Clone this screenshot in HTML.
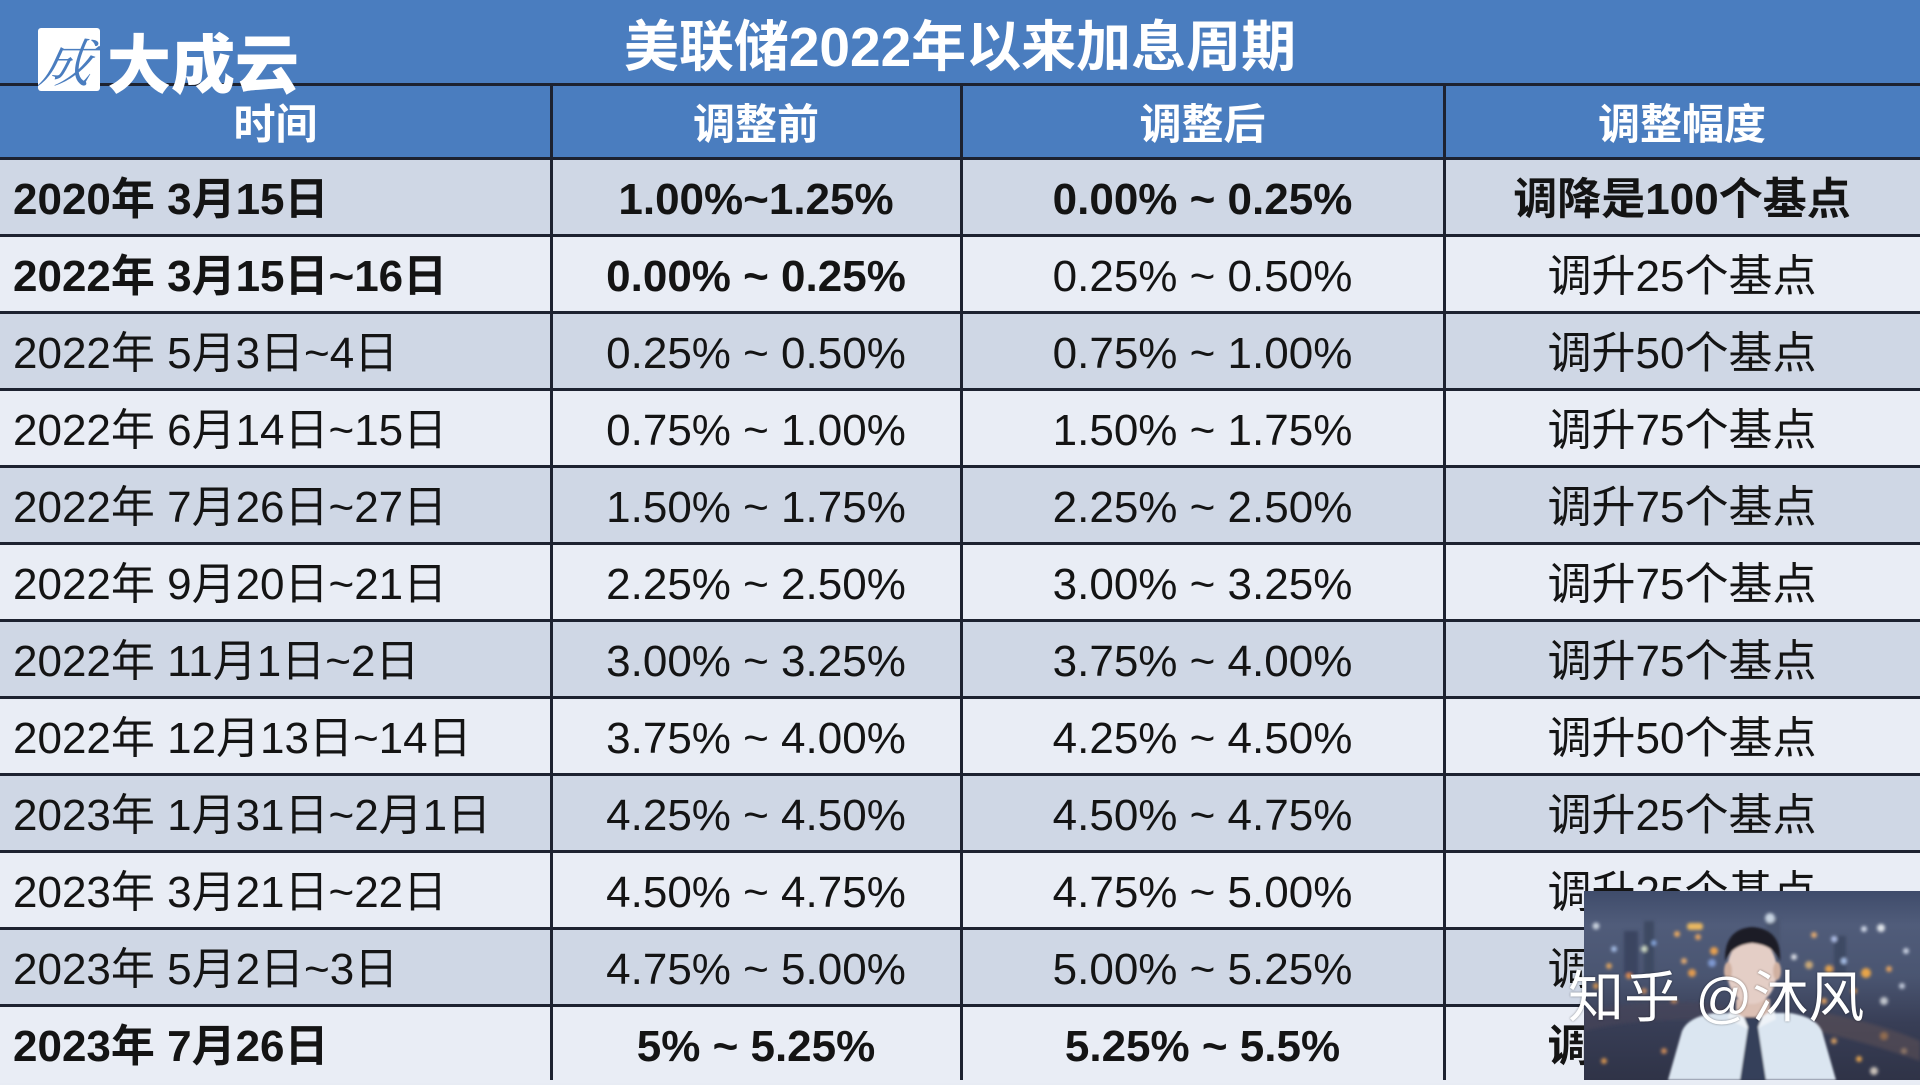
<!DOCTYPE html>
<html>
<head>
<meta charset="utf-8">
<style>
html,body{margin:0;padding:0;}
body{width:1920px;height:1080px;overflow:hidden;position:relative;background:#e8ecf4;font-family:"Liberation Sans","Noto Sans CJK SC",sans-serif;}
.abs{position:absolute;}
.band{left:0;top:0;width:1920px;height:159px;background:#4a7dbf;}
.title{left:0;width:1920px;top:19px;height:56px;line-height:56px;text-align:center;color:#fff;font-size:55px;font-weight:bold;}
.hdr{top:87px;height:75px;line-height:75px;text-align:center;color:#fff;font-size:42px;font-weight:bold;}
.row{left:0;width:1920px;height:77px;}
.dark{background:#cfd7e5;}
.light{background:#e9edf5;}
.cell{height:77px;line-height:77px;font-size:44px;color:#141414;white-space:nowrap;margin-top:2px;}
.c1{left:13px;width:530px;text-align:left;}
.c2{left:551px;width:410px;text-align:center;}
.c3{left:961px;width:483px;text-align:center;}
.c4{left:1444px;width:476px;text-align:center;}
.b{font-weight:bold;}
.hl{left:0;width:1920px;height:3px;background:#1d2230;}
.vl{width:3px;top:84px;height:996px;background:#1d2230;}
</style>
</head>
<body>
<div class="abs band"></div>

<!-- rows -->
<div class="abs row dark" style="top:159px"></div>
<div class="abs row light" style="top:236px"></div>
<div class="abs row dark" style="top:313px"></div>
<div class="abs row light" style="top:390px"></div>
<div class="abs row dark" style="top:467px"></div>
<div class="abs row light" style="top:544px"></div>
<div class="abs row dark" style="top:621px"></div>
<div class="abs row light" style="top:698px"></div>
<div class="abs row dark" style="top:775px"></div>
<div class="abs row light" style="top:852px"></div>
<div class="abs row dark" style="top:929px"></div>
<div class="abs row light" style="top:1006px"></div>

<!-- lines -->
<div class="abs hl" style="top:83px"></div>
<div class="abs hl" style="top:157px"></div>
<div class="abs hl" style="top:234px"></div>
<div class="abs hl" style="top:311px"></div>
<div class="abs hl" style="top:388px"></div>
<div class="abs hl" style="top:465px"></div>
<div class="abs hl" style="top:542px"></div>
<div class="abs hl" style="top:619px"></div>
<div class="abs hl" style="top:696px"></div>
<div class="abs hl" style="top:773px"></div>
<div class="abs hl" style="top:850px"></div>
<div class="abs hl" style="top:927px"></div>
<div class="abs hl" style="top:1004px"></div>
<div class="abs vl" style="left:550px"></div>
<div class="abs vl" style="left:960px"></div>
<div class="abs vl" style="left:1443px"></div>

<!-- title & logo -->
<div class="abs title">美联储2022年以来加息周期</div>
<div class="abs" style="left:38px;top:28px;width:62px;height:63px;background:#fff;border-radius:3px;overflow:hidden;">
  <div style="position:absolute;left:4px;top:2px;font-size:52px;line-height:60px;color:#4a7dbf;font-style:italic;font-family:'Noto Serif CJK SC',serif;transform:skewX(-12deg);">成</div>
</div>
<div class="abs" style="left:107px;top:28px;font-size:64px;line-height:66px;color:#fff;font-weight:900;font-family:'Noto Sans CJK SC',sans-serif;">大成云</div>

<!-- header labels -->
<div class="abs hdr" style="left:0;width:551px;">时间</div>
<div class="abs hdr" style="left:551px;width:410px;">调整前</div>
<div class="abs hdr" style="left:961px;width:483px;">调整后</div>
<div class="abs hdr" style="left:1444px;width:476px;">调整幅度</div>

<!-- row 1 -->
<div class="abs cell c1 b" style="top:159px">2020年 3月15日</div>
<div class="abs cell c2 b" style="top:159px">1.00%~1.25%</div>
<div class="abs cell c3 b" style="top:159px">0.00% ~ 0.25%</div>
<div class="abs cell c4 b" style="top:159px">调降是100个基点</div>
<!-- row 2 -->
<div class="abs cell c1 b" style="top:236px">2022年 3月15日~16日</div>
<div class="abs cell c2 b" style="top:236px">0.00% ~ 0.25%</div>
<div class="abs cell c3" style="top:236px">0.25% ~ 0.50%</div>
<div class="abs cell c4" style="top:236px">调升25个基点</div>
<!-- row 3 -->
<div class="abs cell c1" style="top:313px">2022年 5月3日~4日</div>
<div class="abs cell c2" style="top:313px">0.25% ~ 0.50%</div>
<div class="abs cell c3" style="top:313px">0.75% ~ 1.00%</div>
<div class="abs cell c4" style="top:313px">调升50个基点</div>
<!-- row 4 -->
<div class="abs cell c1" style="top:390px">2022年 6月14日~15日</div>
<div class="abs cell c2" style="top:390px">0.75% ~ 1.00%</div>
<div class="abs cell c3" style="top:390px">1.50% ~ 1.75%</div>
<div class="abs cell c4" style="top:390px">调升75个基点</div>
<!-- row 5 -->
<div class="abs cell c1" style="top:467px">2022年 7月26日~27日</div>
<div class="abs cell c2" style="top:467px">1.50% ~ 1.75%</div>
<div class="abs cell c3" style="top:467px">2.25% ~ 2.50%</div>
<div class="abs cell c4" style="top:467px">调升75个基点</div>
<!-- row 6 -->
<div class="abs cell c1" style="top:544px">2022年 9月20日~21日</div>
<div class="abs cell c2" style="top:544px">2.25% ~ 2.50%</div>
<div class="abs cell c3" style="top:544px">3.00% ~ 3.25%</div>
<div class="abs cell c4" style="top:544px">调升75个基点</div>
<!-- row 7 -->
<div class="abs cell c1" style="top:621px">2022年 11月1日~2日</div>
<div class="abs cell c2" style="top:621px">3.00% ~ 3.25%</div>
<div class="abs cell c3" style="top:621px">3.75% ~ 4.00%</div>
<div class="abs cell c4" style="top:621px">调升75个基点</div>
<!-- row 8 -->
<div class="abs cell c1" style="top:698px">2022年 12月13日~14日</div>
<div class="abs cell c2" style="top:698px">3.75% ~ 4.00%</div>
<div class="abs cell c3" style="top:698px">4.25% ~ 4.50%</div>
<div class="abs cell c4" style="top:698px">调升50个基点</div>
<!-- row 9 -->
<div class="abs cell c1" style="top:775px">2023年 1月31日~2月1日</div>
<div class="abs cell c2" style="top:775px">4.25% ~ 4.50%</div>
<div class="abs cell c3" style="top:775px">4.50% ~ 4.75%</div>
<div class="abs cell c4" style="top:775px">调升25个基点</div>
<!-- row 10 -->
<div class="abs cell c1" style="top:852px">2023年 3月21日~22日</div>
<div class="abs cell c2" style="top:852px">4.50% ~ 4.75%</div>
<div class="abs cell c3" style="top:852px">4.75% ~ 5.00%</div>
<div class="abs cell c4" style="top:852px">调升25个基点</div>
<!-- row 11 -->
<div class="abs cell c1" style="top:929px">2023年 5月2日~3日</div>
<div class="abs cell c2" style="top:929px">4.75% ~ 5.00%</div>
<div class="abs cell c3" style="top:929px">5.00% ~ 5.25%</div>
<div class="abs cell c4" style="top:929px">调升25个基点</div>
<!-- row 12 -->
<div class="abs cell c1 b" style="top:1006px">2023年 7月26日</div>
<div class="abs cell c2 b" style="top:1006px">5% ~ 5.25%</div>
<div class="abs cell c3 b" style="top:1006px">5.25% ~ 5.5%</div>
<div class="abs cell c4 b" style="top:1006px">调升25个基点</div>

<!-- video overlay -->
<svg class="abs" style="left:1584px;top:891px;" width="336" height="189" viewBox="0 0 336 189">
  <defs>
    <linearGradient id="bg" x1="0" y1="0" x2="0" y2="1">
      <stop offset="0" stop-color="#3f4c6b"/>
      <stop offset="0.18" stop-color="#505c7a"/>
      <stop offset="0.45" stop-color="#4a5571"/>
      <stop offset="0.7" stop-color="#383e56"/>
      <stop offset="1" stop-color="#2f3347"/>
    </linearGradient>
    <filter id="bl" x="-50%" y="-50%" width="200%" height="200%"><feGaussianBlur stdDeviation="1.6"/></filter>
    <filter id="bl2" x="-50%" y="-50%" width="200%" height="200%"><feGaussianBlur stdDeviation="1"/></filter>
  </defs>
  <rect width="336" height="189" fill="url(#bg)"/>
  <g filter="url(#bl)">
    <rect x="40" y="40" width="14" height="45" fill="#3a4560"/>
    <rect x="60" y="30" width="10" height="55" fill="#3d4862"/>
    <rect x="182" y="28" width="14" height="50" fill="#4a5570"/>
    <rect x="250" y="45" width="12" height="40" fill="#3e4864"/>
    <rect x="103" y="32" width="16" height="7" rx="3" fill="#e9b860"/>
    <circle cx="186" cy="27" r="5" fill="#c8d4e2"/>
    <circle cx="12" cy="35" r="3.5" fill="#c8d0dc"/>
    <circle cx="93" cy="43" r="3" fill="#e8a860"/>
    <circle cx="114" cy="46" r="3" fill="#e0a060"/>
    <circle cx="60" cy="58" r="3" fill="#d0dcc8"/>
    <circle cx="70" cy="52" r="2.5" fill="#88a8e0"/>
    <circle cx="130" cy="60" r="4" fill="#e8a050"/>
    <circle cx="128" cy="72" r="4" fill="#7f98d0"/>
    <circle cx="30" cy="58" r="3" fill="#a0b8e0"/>
    <circle cx="25" cy="75" r="3" fill="#d8a060"/>
    <circle cx="45" cy="85" r="3" fill="#e09050"/>
    <circle cx="100" cy="70" r="3" fill="#e0a870"/>
    <circle cx="108" cy="82" r="4" fill="#e09a50"/>
    <circle cx="230" cy="44" r="3" fill="#e0a870"/>
    <circle cx="250" cy="48" r="3" fill="#b0c0e8"/>
    <circle cx="280" cy="38" r="3" fill="#d0d8e8"/>
    <circle cx="297" cy="37" r="4" fill="#e0e4ea"/>
    <circle cx="210" cy="66" r="3" fill="#d8dce4"/>
    <circle cx="225" cy="74" r="4" fill="#c8a878"/>
    <circle cx="245" cy="78" r="4" fill="#e0a050"/>
    <circle cx="260" cy="70" r="3" fill="#a8c0e8"/>
    <circle cx="282" cy="82" r="5" fill="#e8a448"/>
    <circle cx="305" cy="78" r="3" fill="#e0a060"/>
    <circle cx="322" cy="60" r="3" fill="#c8d0e0"/>
    <circle cx="318" cy="95" r="3" fill="#c0c8d8"/>
    <circle cx="300" cy="110" r="4" fill="#c0c4cc"/>
    <circle cx="270" cy="100" r="3" fill="#e09850"/>
    <circle cx="240" cy="110" r="3" fill="#e0a060"/>
    <circle cx="12" cy="95" r="3" fill="#d09050"/>
    <circle cx="60" cy="100" r="3" fill="#c08860"/>
    <circle cx="90" cy="110" r="3" fill="#c89060"/>
    <circle cx="20" cy="170" r="3" fill="#d09050"/>
    <circle cx="80" cy="160" r="3" fill="#c88858"/>
    <circle cx="300" cy="145" r="4" fill="#e09848"/>
    <circle cx="320" cy="160" r="3" fill="#d8b080"/>
    <circle cx="275" cy="168" r="3" fill="#e0a050"/>
    <circle cx="290" cy="180" r="4" fill="#c8c0b8"/>
    <circle cx="250" cy="150" r="3" fill="#d09a60"/>
    <path d="M0 120 Q80 105 140 115 L140 130 Q60 125 0 140Z" fill="#4a4458" opacity="0.6"/>
    <path d="M230 120 Q290 130 336 150 L336 170 Q280 150 230 140Z" fill="#5a4e55" opacity="0.6"/>
  </g>
  <g filter="url(#bl2)">
    <path d="M84 189 L98 140 Q104 126 130 122 L206 122 Q232 126 238 140 L252 189 Z" fill="#dbe6f1"/>
    <rect x="152" y="108" width="34" height="18" fill="#dcc0b4"/>
    <path d="M146 118 L168 132 L190 118 L192 128 L168 140 L144 128 Z" fill="#eef3f8"/>
    <path d="M160 126 L178 126 L174 136 L182 189 L156 189 L164 136 Z" fill="#34405a"/>
    <ellipse cx="168" cy="80" rx="25" ry="33" fill="#e4cec6"/>
    <path d="M141 70 Q140 38 168 36 Q198 38 196 70 Q190 54 168 52 Q148 54 141 70Z" fill="#1e1e26"/>
    <ellipse cx="144" cy="80" rx="4" ry="9" fill="#d0b0a0"/>
    <ellipse cx="193" cy="80" rx="4" ry="9" fill="#d0b0a0"/>
  </g>
</svg>

<!-- watermark -->
<div class="abs" style="left:1568px;top:970px;font-size:56px;line-height:56px;color:#fff;white-space:nowrap;text-shadow:0 0 2px rgba(0,0,0,0.45);">知乎 @沐风</div>
</body>
</html>
